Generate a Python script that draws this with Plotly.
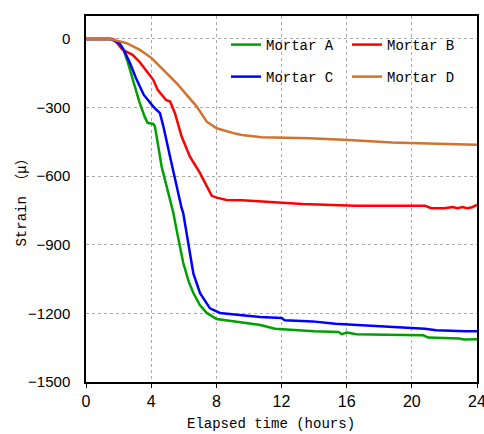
import plotly.graph_objects as go

# Elapsed time (hours) and strain (micro) for each mortar
time_a = [0, 1.55, 2.05, 2.31, 2.55, 3.07, 3.27, 3.6, 3.78, 4.13, 4.23, 4.44, 4.64,
          5.05, 5.36, 5.56, 5.97, 6.3, 6.59, 7.0, 7.41, 8.02, 9.04, 9.86, 10.7, 11.6,
          12.4, 12.7, 14.0, 15.5, 15.7, 16.0, 16.6, 18.4, 20.7, 21.0, 21.8, 22.9, 23.2, 24]
strain_a = [0, 0, -19, -48, -99, -230, -274, -340, -367, -372, -383, -471, -558,
            -673, -760, -835, -980, -1060, -1111, -1165, -1198, -1225, -1236, -1243, -1251, -1267,
            -1271, -1270, -1278, -1281, -1291, -1284, -1291, -1293, -1296, -1306, -1307, -1310, -1314, -1313]

time_b = [0, 1.6, 1.74, 2.25, 2.86, 3.27, 3.89, 4.13, 4.4, 4.75, 4.91, 5.16, 5.46, 5.87,
          6.38, 7.0, 7.41, 7.72, 8.02, 8.63, 9.58, 11.6, 13.3, 16.5, 20.8, 21.2, 22.0,
          22.5, 22.8, 23.1, 23.4, 23.7, 24]
strain_b = [0, 0, -4, -48, -70, -99, -157, -179, -223, -252, -267, -274, -325, -427,
            -515, -587, -640, -686, -694, -704, -706, -716, -722, -729, -730, -740, -740,
            -735, -740, -735, -740, -736, -726]

time_c = [0, 1.5, 2.05, 2.31, 2.66, 3.07, 3.55, 4.13, 4.54, 4.75, 5.16, 5.5, 5.87, 5.97,
          6.28, 6.59, 7.0, 7.61, 8.22, 8.84, 9.58, 10.7, 12.0, 12.2, 13.9, 15.3, 17.4,
          18.6, 20.8, 21.5, 23.3, 24]
strain_c = [0, 0, -19, -48, -99, -172, -245, -296, -325, -383, -515, -625, -740, -762,
            -893, -1025, -1112, -1178, -1198, -1204, -1208, -1216, -1220, -1230, -1235, -1245, -1252,
            -1259, -1267, -1274, -1278, -1278]

time_d = [0, 1.47, 2.5, 3.31, 4.03, 4.54, 5.16, 5.57, 6.18, 6.8, 7.41, 8.02, 9.04, 9.56,
          10.8, 13.7, 16.1, 18.8, 22.7, 24]
strain_d = [0, 0, -19, -48, -84, -121, -165, -194, -245, -296, -362, -391, -412, -420,
            -430, -434, -442, -453, -461, -463]

names = ["Mortar A", "Mortar B", "Mortar C", "Mortar D"]
colors = ["#00A000", "#FF0000", "#0000FF", "#D2722E"]
x_ticks = [0, 4, 8, 12, 16, 20, 24]
y_ticks = [0, -300, -600, -900, -1200, -1500]

series = [(time_a, strain_a), (time_b, strain_b), (time_c, strain_c), (time_d, strain_d)]
legend_ids = ["legend", "legend", "legend2", "legend2"]

mono = "Liberation Mono, Noto Sans CJK JP, monospace"
cjk = "Noto Sans CJK JP"

fig = go.Figure()
for (t, s), name, color, lg in zip(series, names, colors, legend_ids):
    fig.add_trace(go.Scatter(x=t, y=s, mode="lines", name=name,
                             line=dict(color=color, width=2.5), legend=lg))

legend_common = dict(orientation="h", xanchor="left", yanchor="middle",
                     bgcolor="rgba(0,0,0,0)", borderwidth=0,
                     font=dict(family=mono, size=14, color="black"),
                     entrywidth=76, entrywidthmode="pixels",
                     itemclick=False, itemdoubleclick=False)

y_title = ("Strain <span style='font-family:%s'>（</span>μ"
           "<span style='font-family:%s'>）</span>" % (cjk, cjk))

fig.update_layout(
    width=484, height=434,
    margin=dict(l=86, r=7, t=16, b=52),
    paper_bgcolor="white", plot_bgcolor="white",
    legend=dict(x=0.358, y=0.9208, **legend_common),
    legend2=dict(x=0.358, y=0.8333, **legend_common),
    shapes=[dict(type="rect", xref="paper", yref="paper",
                 x0=0.3478, x1=0.9795, y0=0.7896, y1=0.9563,
                 fillcolor="white", line=dict(width=0), layer="between")],
    annotations=[
        dict(text="Elapsed time (hours)", xref="paper", yref="paper",
             x=(271 - 86) / 391, y=-0.088, xanchor="center", yanchor="top",
             showarrow=False, font=dict(family=mono, size=14, color="black")),
        dict(text=y_title, xref="paper", yref="paper",
             x=-0.17, y=0.5, xanchor="center", yanchor="middle", textangle=-90,
             showarrow=False, font=dict(family=mono, size=14, color="black")),
    ],
)

fig.update_xaxes(range=[0, 24], tickvals=x_ticks, ticktext=[str(v) for v in x_ticks],
                 automargin=False, ticklabeloverflow="allow",
                 showline=True, linecolor="black", linewidth=1.5, mirror=True,
                 ticks="outside", ticklen=4, tickcolor="black", tickwidth=1,
                 showgrid=True, gridcolor="#AAAAAA", griddash="dot", gridwidth=1,
                 zeroline=False,
                 tickfont=dict(family="Liberation Sans Narrow, Liberation Sans, sans-serif",
                               size=16, color="black"))
fig.update_yaxes(range=[-1500, 100], tickvals=y_ticks, automargin=False,
                 showline=True, linecolor="black", linewidth=1.5, mirror=True,
                 ticks="", ticklabelstandoff=11,
                 showgrid=True, gridcolor="#AAAAAA", griddash="dot", gridwidth=1,
                 zeroline=False,
                 tickfont=dict(family="Liberation Sans, Arial, sans-serif", size=15, color="black"))

fig.write_html("out.html")
